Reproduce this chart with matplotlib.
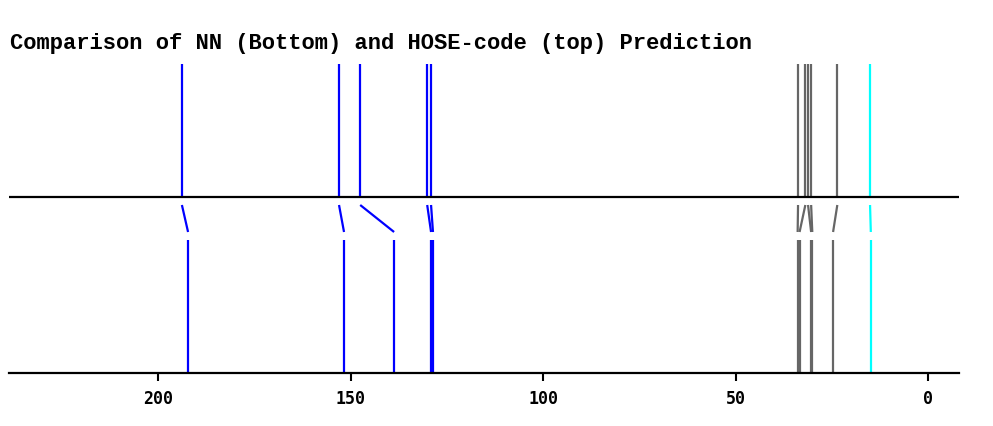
import matplotlib
matplotlib.use("Agg")
import matplotlib.pyplot as plt

# predicted shifts (ppm), paired index by index
hose_ppm = [193.8, 153.0, 147.5, 130.1, 129.1, 33.8, 31.9, 31.2, 30.4, 23.6, 15.1]
nn_ppm = [192.2, 151.7, 138.7, 129.1, 128.6, 33.9, 33.4, 30.4, 30.1, 24.7, 14.9]
peak_colors = ["#0000ff"] * 5 + ["#666666"] * 5 + ["#00ffff"]
xticks = [200, 150, 100, 50, 0]

fig = plt.figure(figsize=(9.93, 4.26), dpi=100)
ax = fig.add_axes([9 / 993, 53 / 426, 950 / 993, 309 / 426])

# vertical layout in pixel-ish units
bot_top = 133
con_lo, con_hi = 141, 168
mid = 176
top_hi = 309

for h, n, c in zip(hose_ppm, nn_ppm, peak_colors):
    ax.vlines(n, 0, bot_top, color=c, lw=1.6)
    ax.vlines(h, mid, top_hi, color=c, lw=1.6)
    ax.plot([h, n], [con_hi, con_lo], color=c, lw=1.6, solid_capstyle="butt")

ax.axhline(mid, color="black", lw=1.6)

ax.set_xlim(238.7, -8.0)
ax.set_ylim(0, top_hi)
ax.set_xticks(xticks)
ax.set_xticklabels([str(t) for t in xticks], fontfamily="DejaVu Sans Mono",
                   fontweight="bold", fontsize=12)
ax.tick_params(axis="x", length=6, width=1.5, pad=6, direction="out")
ax.set_yticks([])
for s in ["top", "left", "right"]:
    ax.spines[s].set_visible(False)
ax.spines["bottom"].set_linewidth(1.6)

fig.text(10 / 993, 1 - 49.5 / 426, "Comparison of NN (Bottom) and HOSE-code (top) Prediction",
         fontfamily="Liberation Mono", fontweight="bold", fontsize=15.9, va="baseline", ha="left")

fig.savefig("out.png", dpi=100)
